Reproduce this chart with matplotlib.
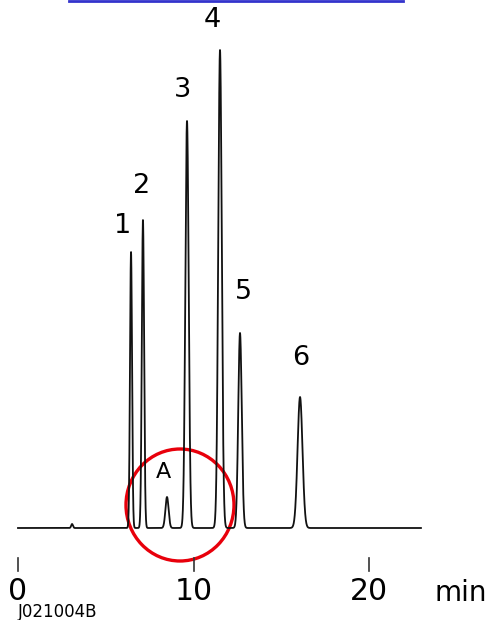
import numpy as np
import matplotlib
matplotlib.use('Agg')
import matplotlib.pyplot as plt
from matplotlib.patches import Ellipse
from matplotlib.lines import Line2D

plt.rcParams['font.family'] = ['DejaVu Sans']

# peak table: retention time (min), height, width (sigma, min)
peak_labels = ['1', '2', 'A', '3', '4', '5', '6']
peak_times = [6.44, 7.12, 8.49, 9.63, 11.51, 12.65, 16.07]
peak_heights = [276, 308, 31, 407, 478, 195, 131]
peak_sigmas = [0.058, 0.065, 0.09, 0.095, 0.10, 0.10, 0.14]
# small system bump near the start
bump_time = 3.08
bump_height = 4

# label offsets above each peak (min, signal)
label_dx = [-0.45, -0.1, -0.2, -0.25, -0.45, 0.2, 0.05]
label_dy = [26, 34, 25, 31, 30, 41, 39]

tick_values = [0, 10, 20]
run_end = 22.96

px_per_min = 17.55
x0_px = 18
base_px = 528
W, H = 491, 620

fig = plt.figure(figsize=(W / 100, H / 100), dpi=100)
ax = fig.add_axes([0, 0, 1, 1])
ax.set_xlim(-x0_px / px_per_min, (W - x0_px) / px_per_min)
ax.set_ylim(-(H - base_px), base_px)
ax.axis('off')

# build the trace
t = np.linspace(0, run_end, 6000)
signal = np.zeros_like(t)
for tr, h, s in zip(peak_times, peak_heights, peak_sigmas):
    signal += h * np.exp(-0.5 * ((t - tr) / s) ** 2)
signal += bump_height * np.exp(-0.5 * ((t - bump_time) / 0.05) ** 2)
ax.plot(t, signal, color='#111111', lw=1.3)

# peak numbers
for lab, tr, h, dx, dy in zip(peak_labels, peak_times, peak_heights, label_dx, label_dy):
    ax.text(tr + dx, h + dy, lab, ha='center', va='center', fontsize=19.5 if lab != 'A' else 16)

# time axis: short ticks with big numbers
for v in tick_values:
    ax.plot([v, v], [-30, -43], color='#333333', lw=1.2)
    ax.text(v, -63, str(v), ha='center', va='center', fontsize=21.5)
ax.text((461 - x0_px) / px_per_min, -65, 'min', ha='center', va='center', fontsize=20)
ax.text(0, -84, 'J021004B', ha='left', va='center', fontsize=12)

# circle around impurity A
ax.add_patch(Ellipse((9.23, 23), 2 * 54 / px_per_min, 112, fill=False,
                     edgecolor='#e8000b', lw=2.4))

# cut-off link underline at top
fig.add_artist(Line2D([69 / W, 403 / W], [1 - 1 / H, 1 - 1 / H],
                      color='#3333cc', lw=2, transform=fig.transFigure))

fig.savefig('out.png', dpi=100, facecolor='white')
